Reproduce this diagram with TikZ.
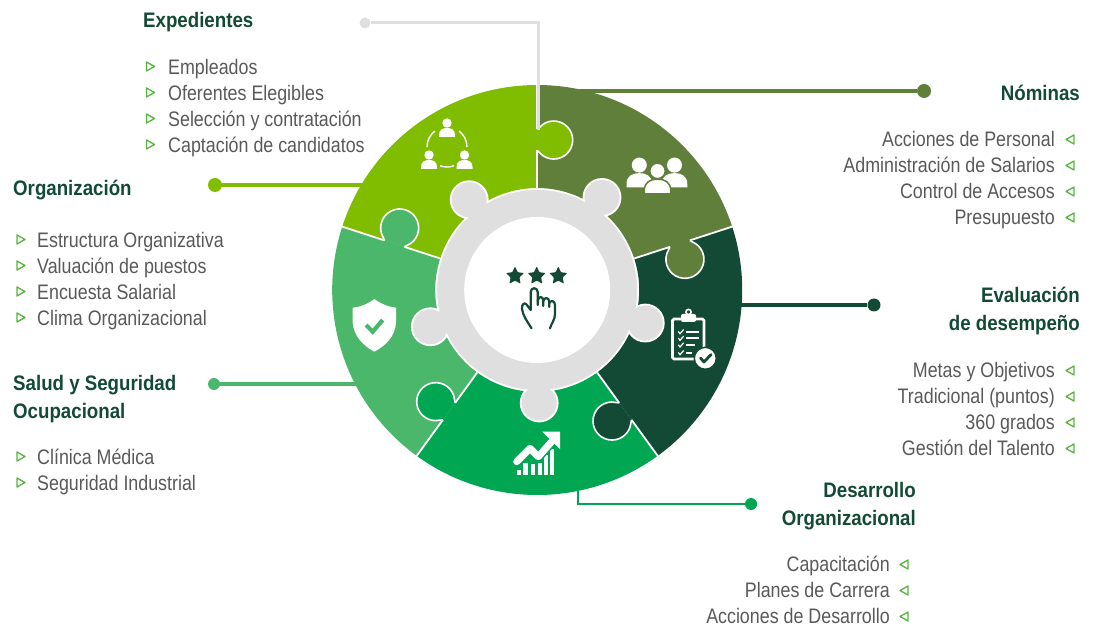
\documentclass[tikz,border=0pt]{standalone}
\usepackage{fontspec}
\setmainfont[FakeStretch=0.85]{Liberation Sans}
\newfontfamily\headfont[FakeStretch=0.89]{Liberation Sans}
\usetikzlibrary{shapes.geometric}
\definecolor{secA}{HTML}{80BC00}
\definecolor{secB}{HTML}{5F7F3A}
\definecolor{secC}{HTML}{134A35}
\definecolor{secD}{HTML}{00A651}
\definecolor{secE}{HTML}{4BB76A}
\definecolor{ringgray}{HTML}{DFDFDF}
\definecolor{itemgray}{HTML}{595959}
\definecolor{tipgreen}{HTML}{55B43F}
\tikzset{
	head/.style={font=\fontsize{21}{24}\headfont\bfseries, text=secC, inner sep=0, yshift=-0.7},
	itemL/.style={font=\fontsize{21}{24}\selectfont, text=itemgray, inner sep=0, anchor=base west, yshift=-0.7},
	itemR/.style={font=\fontsize{21}{24}\selectfont, text=itemgray, inner sep=0, anchor=base east, yshift=-0.7},
	dot/.style={circle, fill=#1, inner sep=0, minimum size=14},
	link/.style={line width=3.2, #1},
	tipR/.pic={\draw[tipgreen, line width=1.3, line join=round] (-4,-4.5) -- (4,0) -- (-4,4.5) -- cycle;},
	tipL/.pic={\draw[tipgreen, line width=1.3, line join=round] (4,-4.5) -- (-4,0) -- (4,4.5) -- cycle;},
	person/.pic={
		\path[pic actions] (0,14) circle[radius=4.7];
		\path[pic actions] (-8,0) -- (-8,2) .. controls (-8,7.5) and (-4,9) .. (0,9) .. controls (4,9) and (8,7.5) .. (8,2) -- (8,0) -- cycle;
	},
	check/.style={line width=#1, line cap=round, line join=round},
	handline/.style={secC, line width=2.2, line cap=round, line join=round},
}
\begin{document}
\begin{tikzpicture}[x=1pt, y=1pt]
	\useasboundingbox (0,0) rectangle (1097,627);
	% dots and their links, under the wheel
	\node[dot=secB] (dotNom) at (924,536) {};
	\node[dot=secC, minimum size=13] (dotEva) at (874,322) {};
	\node[dot=secD, minimum size=12] (dotDes) at (751,123) {};
	\node[dot=secA] (dotOrg) at (215,442) {};
	\node[dot=secE, minimum size=12] (dotSal) at (214,243) {};
	\node[dot=ringgray, minimum size=11] (dotExp) at (365,604) {};
	\coordinate (endNom) at (570,536);
	\coordinate (endEva) at (735,322);
	\coordinate (endDes) at (578,140);
	\coordinate (endOrg) at (365,442);
	\coordinate (endSal) at (365,243);
	\coordinate (endExp) at (538.5,497);
	\draw[link=secB] (dotNom) -- (endNom);
	\draw[link=secC] (dotEva) -- (endEva);
	\draw[link=secD, line width=2.6] (dotDes) -| (endDes);
	\draw[link=secA] (dotOrg) -- (endOrg);
	\draw[link=secE] (dotSal) -- (endSal);
	% wheel
	\begin{scope}[shift={(537.2,337)}]
		\foreach \a/\col in {162/secA, 90/secB, 18/secC, -54/secD, -126/secE}
			\fill[\col] (\a:102) -- (\a:205) arc[start angle=\a, end angle=\a-72, radius=205] -- (\a-72:102) arc[start angle=\a-72, end angle=\a, radius=102] -- cycle;
		\foreach \a in {162, 90, 18, -54, -126} {
			\draw[white, line width=1.8] (\a:102) -- (\a:139.5);
			\draw[white, line width=1.8] (\a:160.5) -- (\a:206);
		}
		\foreach \a/\col in {90/secA, 18/secB, -54/secC, -126/secD, 162/secE}
			\draw[rotate=\a, white, line width=1.6, fill=\col] (139.5,0) -- (134.4,-5.6) arc[start angle=145, end angle=395, radius=19] -- (160.5,0);
		\foreach \a in {127, 55, -17, -89, -161}
			\draw[white, line width=1.8, fill=ringgray] (\a:113) circle[radius=18.5];
		\fill[ringgray] (0,0) circle[radius=100];
		\fill[white] (0,0) circle[radius=73];
	\end{scope}
	\draw[link=ringgray, line width=3] (dotExp) -| (endExp);
	% centre
	\foreach \x/\n in {515/a, 536.7/b, 558.3/c}
		\node[star, star points=5, star point ratio=2.05, fill=secC, inner sep=0, minimum size=19, rounded corners=0.8] (star\n) at (\x,351) {};
	\draw[handline] (531.5,298.7) .. controls (527,306) and (523,311) .. (522,318) .. controls (521.5,323) and (524.5,325) .. (526.5,322.5) -- (530.7,317) -- (530.7,335) .. controls (530.7,340) and (537.7,340) .. (537.7,335) -- (537.7,322);
	\draw[handline] (537.7,326) .. controls (538.5,331.5) and (543.3,331) .. (543.3,326) -- (543.3,321);
	\draw[handline] (543.3,326) .. controls (544,330) and (549.3,330) .. (549.3,325) -- (549.3,320);
	\draw[handline] (549.3,324) .. controls (550.5,327) and (555,326.5) .. (555,322) -- (555,313) .. controls (555,307) and (551,303) .. (550,298.7);
	% cycle of people
	\pic[fill=white] at (447,490) {person};
	\pic[fill=white] at (429,458) {person};
	\pic[fill=white] at (464.5,458) {person};
	\begin{scope}[shift={(447,480)}]
		\draw[white, line width=1.4] (127:20) arc[start angle=127, end angle=180, radius=20];
		\draw[white, line width=1.4] (53:20) arc[start angle=53, end angle=0, radius=20];
		\draw[white, line width=1.4] (250:20) arc[start angle=250, end angle=290, radius=20];
	\end{scope}
	% team
	\pic[fill=white, scale=1.6] at (639.3,439.5) {person};
	\pic[fill=white, scale=1.6] at (674.5,439.5) {person};
	\pic[fill=white, draw=secB, line width=1.5, scale=1.65] at (657.5,433) {person};
	% clipboard
	\draw[white, line width=2.6, rounded corners=1.5] (672.5,308) rectangle (704,268);
	\fill[white, rounded corners=2] (681,305) rectangle (696,313);
	\draw[white, line width=1.6] (688.5,315) circle[radius=2.6];
	\foreach \yy/\xe in {295.3/699, 288.7/699, 282/695, 274.3/692} {
		\draw[white, line width=1.2, line cap=round] (678.5,\yy) -- (680,\yy-2) -- (683.5,\yy+2);
		\draw[white, line width=2] (686,\yy) -- (\xe,\yy);
	}
	\draw[secC, line width=1.5, fill=white] (705.3,268.7) circle[radius=11];
	\draw[secC, check=2.8] (700.5,269) -- (704,265) -- (711,272.5);
	% chart
	\foreach \xa/\xb/\yt in {516.7/521/157, 523.3/528.3/163.7, 531/535/162.7, 538.3/542.3/163.7, 544.3/548.3/172, 550/554.3/178}
		\fill[white] (\xa,152) rectangle (\xb,\yt);
	\draw[secD, line width=10, line join=round] (516.7,165.3) -- (530,178.7) -- (538.3,170.3) -- (553,187);
	\draw[white, check=7] (516.7,165.3) -- (530,178.7) -- (538.3,170.3) -- (553,187);
	\fill[white] (542.3,195.3) -- (560,195.3) -- (560,178) -- cycle;
	% shield
	\fill[white] (374.3,328) .. controls (368,323) and (360,320) .. (352.7,319.3) -- (352.7,304) .. controls (354,290) and (364,281) .. (374.3,275.3) .. controls (385,281) and (395,290) .. (396,304) -- (396,319.3) .. controls (389,320) and (381,323) .. (374.3,328) -- cycle;
	\draw[secE, line width=4.2, line join=miter] (366,302) -- (372.7,295.3) -- (382.7,307);
	% Expedientes
	\node[head, anchor=base west] (expHead) at (143,600) {Expedientes};
	\foreach \txt/\yy [count=\i] in {Empleados/553, Oferentes Elegibles/527, Selecci\'on y contrataci\'on/501, Captaci\'on de candidatos/475} {
		\node[itemL] (exp\i) at (168,\yy) {\txt};
		\pic at (150.5,\yy+7.5) {tipR};
	}
	% Organizacion
	\node[head, anchor=base west] (orgHead) at (13,432) {Organizaci\'on};
	\foreach \txt/\yy [count=\i] in {Estructura Organizativa/380, Valuaci\'on de puestos/354, Encuesta Salarial/328, Clima Organizacional/302} {
		\node[itemL] (org\i) at (37,\yy) {\txt};
		\pic at (21,\yy+7.5) {tipR};
	}
	% Salud
	\node[head, anchor=base west] (salHead) at (13,237) {Salud y Seguridad};
	\node[head, anchor=base west] (salHeadb) at (13,209) {Ocupacional};
	\foreach \txt/\yy [count=\i] in {Cl\'inica M\'edica/163, Seguridad Industrial/137} {
		\node[itemL] (sal\i) at (37,\yy) {\txt};
		\pic at (21,\yy+7.5) {tipR};
	}
	% Nominas
	\node[head, anchor=base east] (nomHead) at (1080,527) {N\'ominas};
	\foreach \txt/\yy [count=\i] in {Acciones de Personal/481, Administraci\'on de Salarios/455, Control de Accesos/429, Presupuesto/403} {
		\node[itemR] (nom\i) at (1055,\yy) {\txt};
		\pic at (1070,\yy+6.5) {tipL};
	}
	% Evaluacion
	\node[head, anchor=base east] (evaHead) at (1080,325) {Evaluaci\'on};
	\node[head, anchor=base east] (evaHeadb) at (1080,297) {de desempe\~no};
	\foreach \txt/\yy [count=\i] in {Metas y Objetivos/250, Tradicional (puntos)/224, 360 grados/198, Gesti\'on del Talento/172} {
		\node[itemR] (eva\i) at (1055,\yy) {\txt};
		\pic at (1070,\yy+6.5) {tipL};
	}
	% Desarrollo
	\node[head, anchor=base east] (desHead) at (916,130) {Desarrollo};
	\node[head, anchor=base east] (desHeadb) at (916,102) {Organizacional};
	\foreach \txt/\yy [count=\i] in {Capacitaci\'on/56, Planes de Carrera/30, Acciones de Desarrollo/4} {
		\node[itemR] (des\i) at (890,\yy) {\txt};
		\pic at (904,\yy+6.5) {tipL};
	}
\end{tikzpicture}
\end{document}
